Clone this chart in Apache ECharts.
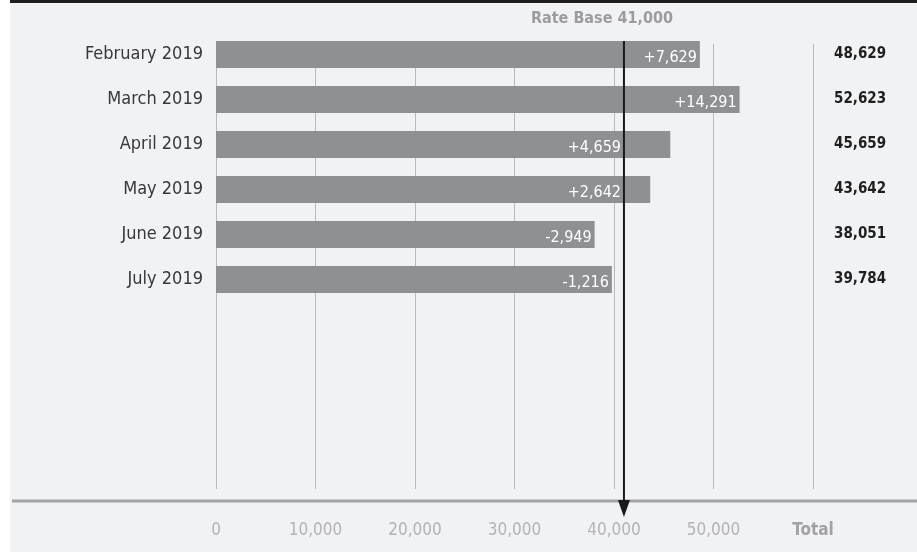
<!DOCTYPE html>
<html>
<head>
<meta charset="utf-8">
<script src="https://cdn.jsdelivr.net/npm/echarts@6/dist/echarts.min.js"></script>
<style>
  html, body { margin: 0; padding: 0; background: #ffffff; }
  #chart {
    width: 917px; height: 552px;
    background:
      linear-gradient(to right, #ffffff 10px, transparent 10px),
      linear-gradient(to bottom, #1e1e1e 3px, #f1f2f4 3px);
  }
</style>
</head>
<body>
<div id="chart"></div>
<script>
// ---- data ----
const categories = ['February 2019', 'March 2019', 'April 2019', 'May 2019', 'June 2019', 'July 2019'];
const totals = [48629, 52623, 45659, 43642, 38051, 39784];
const changes = ['+7,629', '+14,291', '+4,659', '+2,642', '-2,949', '-1,216'];
const rateBase = 41000;
const xMax = 60000;
const xStep = 10000;
const totalLabel = 'Total';
const rateBaseLabel = 'Rate Base';

// ---- styling ----
const FONT = '"DejaVu Sans Condensed", "Liberation Sans Narrow", "DejaVu Sans", sans-serif';
const fmt = v => echarts.format.addCommas(v);

const chart = echarts.init(document.getElementById('chart'), null, { renderer: 'canvas' });

const base = {
  backgroundColor: 'transparent',
  animation: false,
  grid: [
    { left: 216, right: 104, top: 44, bottom: 63 },
    { left: 216, right: 104, top: 32, height: 270 }
  ],
  xAxis: [
    {
      gridIndex: 0, type: 'value', min: 0, max: xMax, interval: xStep,
      axisLine: { show: false }, axisTick: { show: false },
      splitLine: { show: true, lineStyle: { color: '#b9b9bb', width: 1 } },
      axisLabel: {
        margin: 33, fontFamily: FONT, fontSize: 17, color: '#b3b3b5',
        formatter: v => v === xMax ? '{t|' + totalLabel + '}' : fmt(v),
        rich: { t: { fontFamily: FONT, fontSize: 17, fontWeight: 'bold', color: '#a2a2a4' } }
      }
    },
    {
      gridIndex: 1, type: 'value', min: 0, max: xMax, interval: xStep, show: false,
      splitLine: { show: false }
    }
  ],
  yAxis: [
    { gridIndex: 0, type: 'value', show: false, splitLine: { show: false } },
    {
      gridIndex: 1, type: 'category', inverse: true, data: categories,
      axisLine: { show: false }, axisTick: { show: false },
      axisLabel: { margin: 13, fontFamily: FONT, fontSize: 18, color: '#38383a', padding: [0, 0, 8, 0] }
    },
    {
      gridIndex: 1, type: 'category', inverse: true, position: 'right',
      data: totals.map(fmt),
      axisLine: { show: false }, axisTick: { show: false },
      axisLabel: {
        margin: 21, align: 'left', fontFamily: FONT, fontSize: 15, fontWeight: 'bold',
        color: '#1f1f1f', padding: [0, 0, 8, 0]
      }
    }
  ],
  series: [
    {
      type: 'bar', xAxisIndex: 1, yAxisIndex: 1, barWidth: 27,
      itemStyle: { color: '#8f9094' },
      label: {
        show: true, position: 'insideRight', distance: 3,
        fontFamily: FONT, fontSize: 16, color: '#ffffff',
        formatter: p => changes[p.dataIndex]
      },
      data: totals
    }
  ]
};

chart.setOption(base);

// place labels that would cross the rate-base arrow to its left
const ax = chart.convertToPixel({ xAxisIndex: 1 }, rateBase);
const ctx = document.createElement('canvas').getContext('2d');
ctx.font = '16px ' + FONT;
const items = totals.map((v, i) => {
  const end = chart.convertToPixel({ xAxisIndex: 1 }, v);
  const w = ctx.measureText(changes[i]).width;
  let dx = 0;
  if (end > ax && end - 3 - w < ax + 2) dx = (ax - 3) - (end - 3);
  return { value: v, label: { offset: [dx, 3] } };
});

chart.setOption({
  series: [{ data: items }],
  graphic: [
    { type: 'rect', z: 50, shape: { x: 12, y: 499.5, width: 905, height: 3 }, style: { fill: '#a4a4a6' } },
    { type: 'line', z: 100, shape: { x1: ax, y1: 41, x2: ax, y2: 504 }, style: { stroke: '#1a1a1a', lineWidth: 2 } },
    { type: 'polygon', z: 100, shape: { points: [[ax - 6, 500], [ax + 6, 500], [ax, 517]] }, style: { fill: '#1a1a1a' } },
    {
      type: 'text', z: 100, x: ax - 22, y: 19,
      style: {
        text: rateBaseLabel + ' ' + fmt(rateBase), fontFamily: FONT, fontSize: 16, fontWeight: 'bold',
        fill: '#9c9c9e', align: 'center', verticalAlign: 'middle'
      }
    }
  ]
});
</script>
</body>
</html>
